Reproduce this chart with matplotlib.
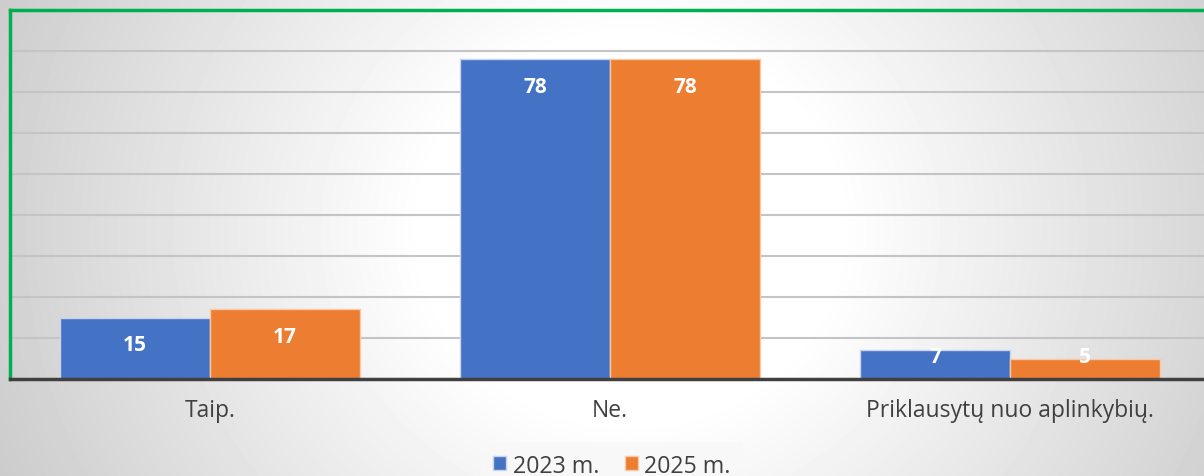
import numpy as np
from matplotlib import pyplot as plt
from matplotlib.patches import Patch

categories = ['Taip.', 'Ne.', 'Priklausytų nuo aplinkybių.']
series_names = ['2023 m.', '2025 m.']
values_2023 = [15, 78, 7]
values_2025 = [17, 78, 5]
colors = ['#4472c4', '#ed7d31']
edges = ['#c9d4ec', '#f6c9a8']

plt.rcParams['font.family'] = ['Open Sans', 'DejaVu Sans']

W, H = 1204, 477
fig = plt.figure(figsize=(W / 100, H / 100), dpi=100)

# grey background getting white towards the middle
bg = fig.add_axes([0, 0, 1, 1])
yy, xx = np.mgrid[0:H, 0:W]
d = np.sqrt(((xx - 630) / 650.0) ** 2 + ((yy - 230) / 600.0) ** 2)
shade = 1.0 - 0.275 * np.clip(d - 0.32, 0, None)
bg.imshow(shade, cmap='gray', vmin=0, vmax=1, aspect='auto', extent=[0, W, H, 0])
bg.axis('off')

ax = fig.add_axes([10 / W, 97 / H, 1200 / W, 369 / H])
ax.patch.set_alpha(0)

x = np.arange(len(categories))
w = 0.375
b1 = ax.bar(x - w / 2, values_2023, w, color=colors[0], edgecolor=edges[0], linewidth=1, zorder=2)
b2 = ax.bar(x + w / 2, values_2025, w, color=colors[1], edgecolor=edges[1], linewidth=1, zorder=2)

for bars, vals in [(b1, values_2023), (b2, values_2025)]:
    for r, v in zip(bars, vals):
        ly = max(v - 6.6, 5.5)
        ax.text(r.get_x() + r.get_width() / 2, ly, str(v), ha='center', va='center',
                color='white', fontsize=15, fontweight='bold', zorder=3)

ax.set_xlim(-0.5, 2.5)
ax.set_ylim(0, 90)
ax.set_yticks(np.arange(0, 91, 10))
ax.yaxis.grid(True, color='#c4c4c4', linewidth=1.5)
ax.set_axisbelow(True)
ax.tick_params(axis='y', left=False, labelleft=False)
ax.set_xticks(x)
ax.set_xticklabels(categories, fontsize=16.5, color='#404040')
ax.tick_params(axis='x', length=0, pad=14)

for s in ['top', 'left']:
    ax.spines[s].set_color('#00b050')
    ax.spines[s].set_linewidth(2.5)
ax.spines['right'].set_visible(False)
ax.spines['bottom'].set_color('#404040')
ax.spines['bottom'].set_linewidth(2.5)
ax.spines['bottom'].set_zorder(4)

handles = [Patch(facecolor=c, edgecolor=e) for c, e in zip(colors, edges)]
leg = fig.legend(handles, series_names, loc='upper center', bbox_to_anchor=(612 / W, 1 - 443 / H),
                 ncol=2, fontsize=16.7, frameon=True, fancybox=False, handlelength=0.55,
                 handleheight=0.55, handletextpad=0.3, columnspacing=1.1, borderpad=0.5,
                 borderaxespad=0)
leg.get_frame().set_facecolor('#f8f8f8')
leg.get_frame().set_alpha(0.8)
leg.get_frame().set_edgecolor('none')
for t in leg.get_texts():
    t.set_color('#404040')

fig.savefig('out.png', dpi=100)
